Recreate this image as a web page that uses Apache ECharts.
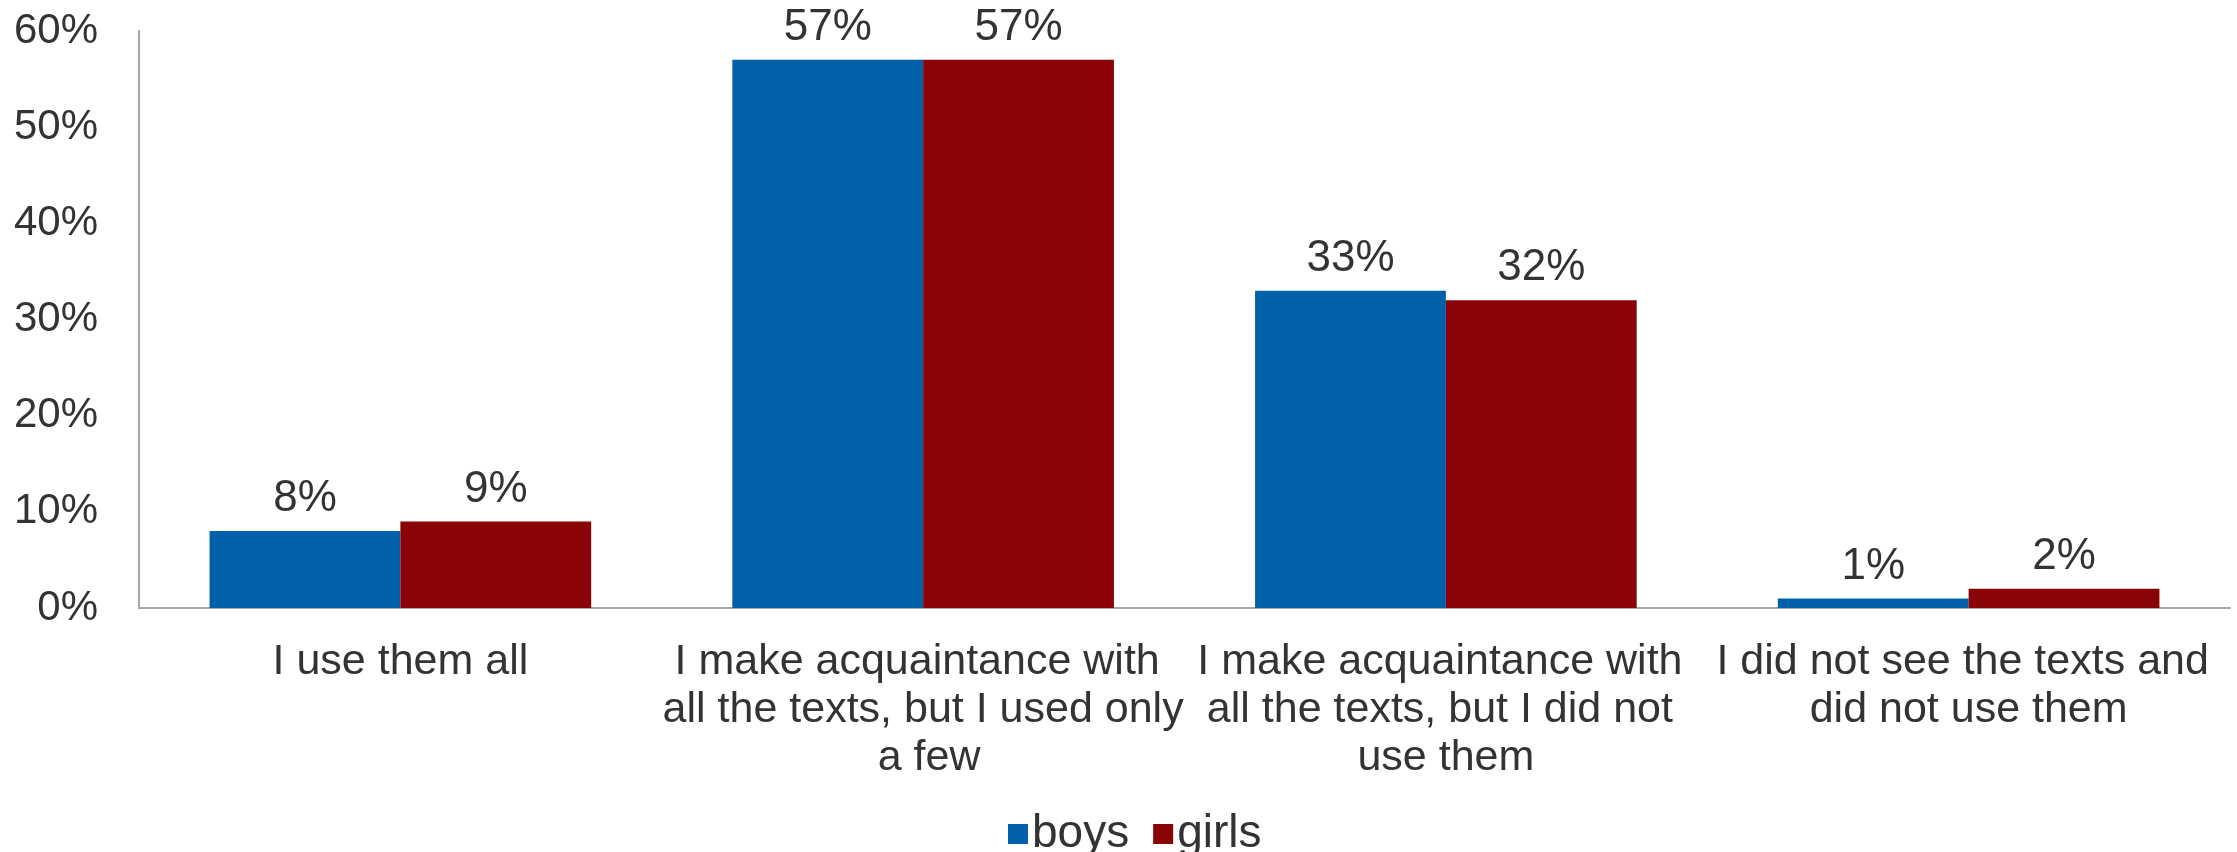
<!DOCTYPE html>
<html>
<head>
<meta charset="utf-8">
<script src="https://cdn.jsdelivr.net/npm/echarts@6/dist/echarts.min.js"></script>
<style>html,body{margin:0;padding:0;background:#fff}#c{width:2237px;height:852px}</style>
</head>
<body>
<div id="c"></div>
<script>
const categories = [
  "I use them all",
  "I make acquaintance with all the texts, but I used only a few",
  "I make acquaintance with all the texts, but I did not use them",
  "I did not see the texts and did not use them"
];
const boys = [8, 57, 33, 1];
const girls = [9, 57, 32, 2];
const yTicks = [0, 10, 20, 30, 40, 50, 60];

const FONT = "'Liberation Sans', Arial, sans-serif";
const TXT = '#333333';
const chart = echarts.init(document.getElementById('c'), null, {renderer: 'canvas'});
chart.setOption({
  animation: false,
  grid: {left: 139, right: 7, top: 31, bottom: 244, containLabel: false},
  legend: {
    data: ['boys', 'girls'],
    left: 1003, top: 806,
    itemWidth: 20, itemHeight: 20, itemGap: 24,
    icon: 'rect',
    textStyle: {fontFamily: FONT, fontSize: 46, color: TXT, padding: [0,0,0,-1]}
  },
  xAxis: {
    type: 'category',
    data: categories,
    axisLine: {show: true, lineStyle: {color: '#A6A6A6', width: 2}},
    axisTick: {show: false},
    axisLabel: {
      interval: 0, margin: 30,
      fontFamily: FONT, fontSize: 43, color: TXT, lineHeight: 48,
      width: 522, overflow: 'break', align: 'center'
    }
  },
  yAxis: {
    type: 'value', min: yTicks[0], max: yTicks[yTicks.length-1], interval: 10,
    axisLine: {show: true, lineStyle: {color: '#A6A6A6', width: 2}},
    axisTick: {show: false},
    splitLine: {show: false},
    axisLabel: {formatter: '{value}%', margin: 41, fontFamily: FONT, fontSize: 42, color: TXT}
  },
  series: [
    {
      name: 'boys', type: 'bar', data: boys,
      barGap: '0%', barCategoryGap: '27%',
      itemStyle: {color: '#0060A9'},
      label: {show: true, position: 'top', distance: 10, formatter: '{c}%', fontFamily: FONT, fontSize: 44, color: TXT}
    },
    {
      name: 'girls', type: 'bar', data: girls,
      barGap: '0%', barCategoryGap: '27%',
      itemStyle: {color: '#8A0306'},
      label: {show: true, position: 'top', distance: 10, formatter: '{c}%', fontFamily: FONT, fontSize: 44, color: TXT}
    }
  ]
});
</script>
</body>
</html>
